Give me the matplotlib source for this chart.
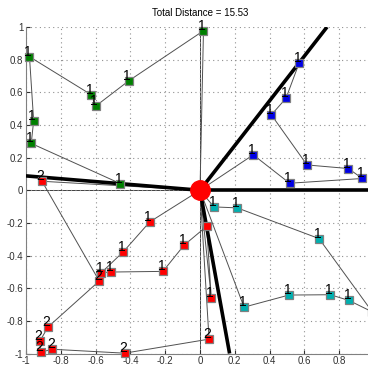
import matplotlib
matplotlib.use("Agg")
import matplotlib.pyplot as plt

plt.rcParams['font.family'] = ['Liberation Sans', 'DejaVu Sans']

title = "Total Distance = 15.53"
depot = (0.0, 0.0)

# Routes in visit order (customers only; depot at start and end)
green_x = [0.02, -0.41, -0.60, -0.625, -0.98, -0.956, -0.97, -0.458]
green_y = [0.977, 0.67, 0.515, 0.585, 0.818, 0.425, 0.287, 0.041]
green_lab = ['1'] * 8

blue_x = [0.306, 0.515, 0.933, 0.853, 0.615, 0.41, 0.494, 0.569]
blue_y = [0.217, 0.043, 0.072, 0.133, 0.155, 0.462, 0.563, 0.777]
blue_lab = ['1'] * 8

cyan_x = [0.08, 0.214, 0.684, 0.99, 0.856, 0.749, 0.511, 0.253]
cyan_y = [-0.102, -0.108, -0.296, -0.745, -0.675, -0.64, -0.642, -0.716]
cyan_lab = ['1', '1', '1', '', '1', '1', '1', '1']

red1_x = [-0.289, -0.44, -0.567, -0.511, -0.213, -0.092, 0.038, 0.065]
red1_y = [-0.194, -0.376, -0.505, -0.501, -0.497, -0.337, -0.221, -0.66]
red1_lab = ['1', '1', '1', '1', '1', '1', '', '1']

red2_x = [0.052, -0.433, -0.849, -0.916, -0.92, -0.874, -0.579, -0.908]
red2_y = [-0.912, -0.998, -0.974, -0.992, -0.924, -0.838, -0.556, 0.055]
red2_lab = ['2'] * 8

# Thick sector boundary lines from the depot
bound_x = [0.73, -1.0, 1.0, 0.17]
bound_y = [1.0, 0.088, 0.0, -1.0]

routes = [
    (green_x, green_y, green_lab, '#008000'),
    (blue_x, blue_y, blue_lab, '#0000e6'),
    (cyan_x, cyan_y, cyan_lab, '#00b0b0'),
    (red1_x, red1_y, red1_lab, '#ff0000'),
    (red2_x, red2_y, red2_lab, '#ff0000'),
]

fig = plt.figure(figsize=(3.68, 3.69), dpi=100)
ax = fig.add_axes([26/368, 15.5/369, 348/368, (353.5-27)/369])
ax.set_xlim(-1, 1)
ax.set_ylim(-1, 1)

ax.axhline(0, color='#404040', lw=0.7, zorder=1)
ax.axvline(0, color='#404040', lw=0.7, zorder=1)

for xs, ys, labs, col in routes:
    px = [depot[0]] + xs + [depot[0]]
    py = [depot[1]] + ys + [depot[1]]
    ax.plot(px, py, color='#505050', lw=0.7, zorder=2)

for bx, by in zip(bound_x, bound_y):
    ax.plot([depot[0], bx], [depot[1], by], color='black', lw=2.6, zorder=3,
            solid_capstyle='butt')

for xs, ys, labs, col in routes:
    ax.plot(xs, ys, linestyle='none', marker='s', markersize=6,
            markerfacecolor=col, markeredgecolor='#808080', markeredgewidth=0.9,
            zorder=4, clip_on=False)
    for x, y, l in zip(xs, ys, labs):
        if l:
            ax.annotate(l, (x, y), xytext=(-1.5, 1), textcoords='offset pixels',
                        ha='center', va='baseline', fontsize=10, color='black',
                        zorder=5, annotation_clip=False)

ax.plot([depot[0]], [depot[1]], marker='o', markersize=14, color='#ff0000',
        markeredgecolor='#ff0000', zorder=3.5)

ticks = [-1, -0.8, -0.6, -0.4, -0.2, 0, 0.2, 0.4, 0.6, 0.8, 1]
ylabels = ['-1', '-0.8', '-0.6', '-0.4', '-0.2', '0', '0.2', '0.4', '0.6', '0.8', '1']
xlabels = ylabels[:-1] + ['']
ax.set_xticks(ticks)
ax.set_xticklabels(xlabels)
ax.set_yticks(ticks)
ax.set_yticklabels(ylabels)
ax.tick_params(direction='in', length=3, labelsize=7, pad=2, colors='#303030')
ax.grid(True, linestyle=(0, (1, 3)), color='#909090', lw=0.8)
ax.spines['top'].set_visible(False)
ax.spines['right'].set_visible(False)
ax.spines['left'].set_color('#808080')
ax.spines['bottom'].set_color('#808080')
ax.set_title(title, fontsize=7, pad=8)

fig.savefig('out.png', dpi=100)
